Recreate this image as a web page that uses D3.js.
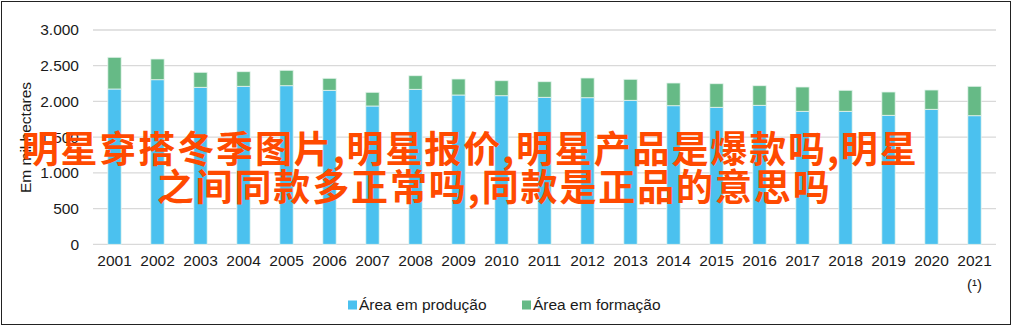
<!DOCTYPE html>
<html>
<head>
<meta charset="utf-8">
<script src="https://cdn.jsdelivr.net/npm/d3@7"></script>
<style>
  body { margin: 0; background: #fff; }
  svg text { font-family: "Liberation Sans", Arial, sans-serif; fill: #1a1a1a; }
  svg text.overlay { font-family: "Noto Sans CJK SC", sans-serif; font-weight: bold; fill: #ff4a00; }
</style>
</head>
<body>
<div id="chart"></div>
<script>
// values (mil hectares)
const years = ["2001", "2002", "2003", "2004", "2005", "2006", "2007", "2008", "2009", "2010", "2011",
               "2012", "2013", "2014", "2015", "2016", "2017", "2018", "2019", "2020", "2021"];
const producao = [2174, 2304, 2198, 2212, 2220, 2156, 1936, 2170, 2090, 2080, 2058,
                  2052, 2016, 1940, 1918, 1946, 1862, 1862, 1806, 1890, 1800];
const formacao = [444, 290, 210, 204, 216, 168, 192, 190, 224, 210, 218,
                  276, 294, 318, 330, 274, 340, 294, 326, 270, 412];
const yTicks = [0, 500, 1000, 1500, 2000, 2500, 3000];
const seriesNames = ["Área em produção", "Área em formação"];
const overlayLines = ["明星穿搭冬季图片,明星报价,明星产品是爆款吗,明星", "之间同款多正常吗,同款是正品的意思吗"];

const W = 1013, H = 327;
const margin = { top: 30, right: 17, bottom: 83, left: 93 };
const plotW = W - margin.left - margin.right;
const plotH = 244.3 - margin.top;

const svg = d3.select("#chart").append("svg")
    .attr("width", W)
    .attr("height", H);

// outer frame
svg.append("rect")
    .attr("x", 1.5).attr("y", 1.5)
    .attr("width", 1009).attr("height", 323)
    .attr("fill", "none")
    .attr("stroke", "#222")
    .attr("stroke-width", 1);

const g = svg.append("g").attr("transform", `translate(${margin.left},${margin.top})`);

const x = d3.scaleBand().domain(years).range([0, plotW]).paddingInner(0.69).paddingOuter(0.345);
const y = d3.scaleLinear().domain([0, 3000]).range([plotH, 0]);
const color = d3.scaleOrdinal().domain(seriesNames).range(["#4bc1ef", "#66ba86"]);

// gridlines
g.selectAll(".grid")
    .data(yTicks)
    .enter()
    .append("line")
    .attr("class", "grid")
    .attr("x1", 0).attr("x2", plotW)
    .attr("y1", d => y(d)).attr("y2", d => y(d))
    .attr("stroke", "#d9d9d9")
    .attr("stroke-width", 1.3);

// y axis labels
const fmt = d3.formatLocale({ decimal: ",", thousands: ".", grouping: [3], currency: ["", ""] }).format(",d");
const yAxis = g.append("g")
    .call(d3.axisLeft(y).tickValues(yTicks).tickFormat(fmt).tickSize(0).tickPadding(14));
yAxis.select(".domain").remove();
yAxis.selectAll("text")
    .attr("font-size", "15.5px")
    .attr("font-family", "Liberation Sans, Arial, sans-serif")
    .attr("fill", "#1a1a1a");

// x axis labels
const xAxis = g.append("g")
    .attr("transform", `translate(0,${plotH})`)
    .call(d3.axisBottom(x).tickSize(0).tickPadding(11));
xAxis.select(".domain").remove();
xAxis.selectAll("text")
    .attr("font-size", "15.5px")
    .attr("font-family", "Liberation Sans, Arial, sans-serif")
    .attr("fill", "#1a1a1a");

// footnote under 2021
g.append("text")
    .attr("x", x("2021") + x.bandwidth() / 2)
    .attr("y", plotH + 45.5)
    .attr("text-anchor", "middle")
    .attr("font-size", "15px")
    .text("(¹)");

// stacked bars
const stackData = years.map((yr, i) => ({ year: yr, [seriesNames[0]]: producao[i], [seriesNames[1]]: formacao[i] }));
const stacked = d3.stack().keys(seriesNames)(stackData);

g.selectAll(".series")
    .data(stacked)
    .enter()
    .append("g")
    .attr("class", "series")
    .attr("fill", d => color(d.key))
    .selectAll("rect")
    .data(d => d)
    .enter()
    .append("rect")
    .attr("x", d => x(d.data.year))
    .attr("y", d => y(d[1]))
    .attr("width", x.bandwidth())
    .attr("height", d => y(d[0]) - y(d[1]))
    .attr("stroke", "#e6f4ee")
    .attr("stroke-width", 0.8);

// y axis title
svg.append("text")
    .attr("transform", "translate(31,137.5) rotate(-90)")
    .attr("text-anchor", "middle")
    .attr("font-size", "15.5px")
    .text("Em mil hectares");

// legend
const legendX = [348, 522];
const legend = svg.selectAll(".legend")
    .data(seriesNames)
    .enter()
    .append("g")
    .attr("class", "legend")
    .attr("transform", (d, i) => `translate(${legendX[i]},300.5)`);
legend.append("rect")
    .attr("width", 9).attr("height", 9)
    .attr("fill", d => color(d));
legend.append("text")
    .attr("x", 11).attr("y", 9.5)
    .attr("font-size", "15.5px")
    .text(d => d);

// overlay text
const overlayX = [21.7, 156.7];
const overlayLen = [895, 673];
const overlayY = [163, 201];
svg.selectAll(".overlay")
    .data(overlayLines)
    .enter()
    .append("text")
    .attr("class", "overlay")
    .attr("x", (d, i) => overlayX[i])
    .attr("y", (d, i) => overlayY[i])
    .attr("font-size", "37px")
    .attr("textLength", (d, i) => overlayLen[i])
    .attr("lengthAdjust", "spacing")
    .text(d => d);
</script>
</body>
</html>
